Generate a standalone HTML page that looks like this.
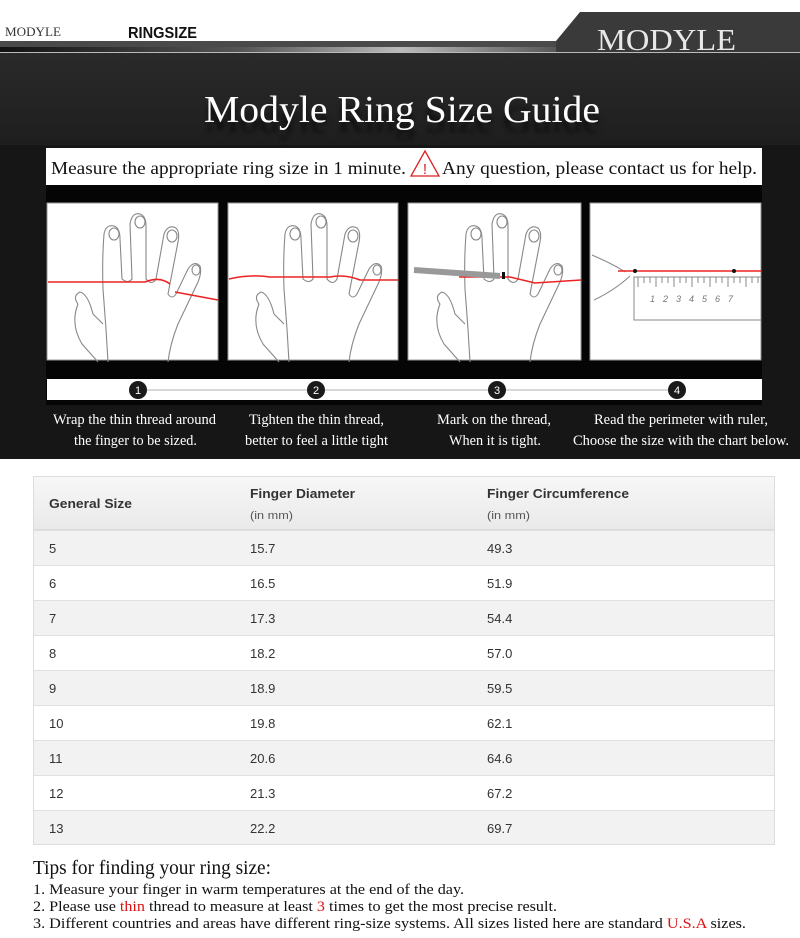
<!DOCTYPE html>
<html><head><meta charset="utf-8"><style>
html,body{margin:0;padding:0;background:#fff;width:800px;height:938px;overflow:hidden}
svg{display:block}
.serif{font-family:"Liberation Serif",serif}
.sans{font-family:"Liberation Sans",sans-serif}
</style></head><body>
<svg width="800" height="938" viewBox="0 0 800 938" xmlns="http://www.w3.org/2000/svg">
<defs>
<filter id="bl"><feGaussianBlur stdDeviation="2.5"/></filter>
<linearGradient id="hl" x1="0" x2="1" y1="0" y2="0">
<stop offset="0" stop-color="#111"/><stop offset="0.3" stop-color="#555"/><stop offset="0.5" stop-color="#bbb"/><stop offset="0.7" stop-color="#555"/><stop offset="1" stop-color="#111"/></linearGradient>
<linearGradient id="th" x1="0" x2="0" y1="0" y2="1"><stop offset="0" stop-color="#f7f7f7"/><stop offset="1" stop-color="#e9e9e9"/></linearGradient>
<linearGradient id="dk" x1="0" x2="0" y1="0" y2="1"><stop offset="0" stop-color="#2a2a2a"/><stop offset="1" stop-color="#1e1e1e"/></linearGradient>
<g id="hand" fill="none" stroke="#888" stroke-width="1.1">
<path d="M20 100 Q12 120 24 140 L40 158 M50 158 L48 125 L45 85 Q44 55 46 30 Q48 20 56 22 Q62 24 62 35 L64 75 Q70 80 74 75 L72 20 Q74 8 82 10 Q88 12 88 22 L88 75 Q94 82 98 75 L106 30 Q110 20 118 24 Q122 28 120 38 L110 90 Q114 96 118 90 L130 65 Q136 56 142 62 Q144 68 140 78 L120 120 Q112 140 110 158"/>
<path d="M20 100 Q14 92 22 88 Q30 90 35 110 L45 120"/>
<ellipse cx="56" cy="30" rx="5" ry="6"/><ellipse cx="82" cy="18" rx="5" ry="6"/><ellipse cx="114" cy="32" rx="5" ry="6"/><ellipse cx="138" cy="66" rx="4" ry="5"/>
</g>
</defs>
<rect x="0" y="0" width="800" height="41" fill="#fff"/>
<text x="5" y="36" class="serif" font-size="13" fill="#333" textLength="56" lengthAdjust="spacingAndGlyphs">MODYLE</text>
<text x="128" y="38" class="sans" font-size="16" font-weight="bold" fill="#111" textLength="69" lengthAdjust="spacingAndGlyphs">RINGSIZE</text>
<rect x="0" y="41" width="800" height="8" fill="#4a4a4a"/>
<rect x="0" y="47" width="800" height="5" fill="url(#hl)"/>
<polygon points="580,12 800,12 800,52 556,52 556,41" fill="#3a3a3a"/>
<text x="597" y="50" class="serif" font-size="31" fill="#e8e8e8" textLength="139" lengthAdjust="spacingAndGlyphs">MODYLE</text>
<rect x="0" y="52" width="800" height="1.5" fill="#bbb"/>
<rect x="0" y="53" width="800" height="92" fill="url(#dk)"/>
<rect x="0" y="145" width="800" height="314" fill="#161616"/>
<text x="204" y="132" class="serif" font-size="38" fill="#000" opacity="0.6" filter="url(#bl)" textLength="396" lengthAdjust="spacingAndGlyphs">Modyle Ring Size Guide</text>
<text x="204" y="122" class="serif" font-size="38" fill="#fff" textLength="396" lengthAdjust="spacingAndGlyphs">Modyle Ring Size Guide</text>
<rect x="46" y="148" width="716" height="37" fill="#fff"/>
<rect x="46" y="185" width="716" height="220" fill="#050505"/>
<text x="51" y="174" class="serif" font-size="18" fill="#111" textLength="355" lengthAdjust="spacingAndGlyphs">Measure the appropriate ring size in 1 minute.</text>
<polygon points="425,151 411,176 439,176" fill="#fff" stroke="#d22" stroke-width="1.3"/>
<text x="425" y="174" class="sans" font-size="15" fill="#d22" text-anchor="middle">!</text>
<text x="442" y="174" class="serif" font-size="18" fill="#111" textLength="315" lengthAdjust="spacingAndGlyphs">Any question, please contact us for help.</text>
<rect x="47" y="203" width="171" height="157" fill="#fff" stroke="#999"/>
<rect x="228" y="203" width="170" height="157" fill="#fff" stroke="#999"/>
<rect x="408" y="203" width="173" height="157" fill="#fff" stroke="#999"/>
<rect x="590" y="203" width="171" height="157" fill="#fff" stroke="#999"/>
<use href="#hand" x="58" y="204"/>
<use href="#hand" x="239" y="204"/>
<use href="#hand" x="420" y="204"/>
<path d="M48 282 L145 282 Q160 276 170 284 M175 292 L218 300" stroke="#e22" stroke-width="1.6" fill="none"/>
<path d="M229 279 Q250 274 270 277 L330 277 Q345 274 360 280 L398 280" stroke="#e22" stroke-width="1.6" fill="none"/>
<path d="M459 277 L510 277 L535 283 L581 280" stroke="#e22" stroke-width="1.6" fill="none"/>
<path d="M414 270 L500 276" stroke="#999" stroke-width="6" fill="none"/>
<rect x="502" y="272" width="3" height="7" fill="#111"/>
<path d="M592 255 Q615 265 625 272 M594 300 Q615 290 630 276" stroke="#888" fill="none"/>
<path d="M618 271 L761 271" stroke="#e22" stroke-width="1.6"/>
<circle cx="635" cy="271" r="2" fill="#111"/><circle cx="734" cy="271" r="2" fill="#111"/>
<path d="M761 277 L634 277 L634 320 L761 320" stroke="#888" fill="none"/>
<g stroke="#888"><path d="M638 277v10M644 277v6M650 277v6M656 277v10M662 277v6M668 277v6M674 277v10M680 277v6M686 277v6M692 277v10M698 277v6M704 277v6M710 277v10M716 277v6M722 277v6M728 277v10M734 277v6M740 277v6M746 277v10M752 277v6M758 277v6"/></g>
<text x="650" y="302" class="sans" font-size="9" font-style="italic" fill="#777" letter-spacing="8">1234567</text>
<rect x="47" y="379" width="715" height="21" fill="#fff"/>
<line x1="138" y1="390" x2="677" y2="390" stroke="#ccc" stroke-width="1.5"/>
<g class="sans" font-size="11" fill="#fff" text-anchor="middle">
<circle cx="138" cy="390" r="9" fill="#1a1a1a"/><text x="138" y="394">1</text>
<circle cx="316" cy="390" r="9" fill="#1a1a1a"/><text x="316" y="394">2</text>
<circle cx="497" cy="390" r="9" fill="#1a1a1a"/><text x="497" y="394">3</text>
<circle cx="677" cy="390" r="9" fill="#1a1a1a"/><text x="677" y="394">4</text>
</g>
<g class="serif" font-size="15" fill="#fff">
<text x="53" y="424" textLength="163" lengthAdjust="spacingAndGlyphs">Wrap the thin thread around</text>
<text x="74" y="445" textLength="123" lengthAdjust="spacingAndGlyphs">the finger to be sized.</text>
<text x="249" y="424" textLength="135" lengthAdjust="spacingAndGlyphs">Tighten the thin thread,</text>
<text x="245" y="445" textLength="143" lengthAdjust="spacingAndGlyphs">better to feel a little tight</text>
<text x="437" y="424" textLength="114" lengthAdjust="spacingAndGlyphs">Mark on the thread,</text>
<text x="449" y="445" textLength="92" lengthAdjust="spacingAndGlyphs">When it is tight.</text>
<text x="594" y="424" textLength="174" lengthAdjust="spacingAndGlyphs">Read the perimeter with ruler,</text>
<text x="573" y="445" textLength="216" lengthAdjust="spacingAndGlyphs">Choose the size with the chart below.</text>
</g>
<rect x="33.5" y="476.5" width="741" height="368" fill="#fff" stroke="#ddd"/>
<rect x="34" y="477" width="740" height="53" fill="url(#th)"/>
<line x1="34" y1="530" x2="774" y2="530" stroke="#d6d6d6" stroke-width="1.5"/>
<g class="sans" fill="#333">
<text x="49" y="508" font-size="13" font-weight="bold" textLength="83" lengthAdjust="spacingAndGlyphs">General Size</text>
<text x="250" y="498" font-size="13" font-weight="bold" textLength="105" lengthAdjust="spacingAndGlyphs">Finger Diameter</text>
<text x="250" y="519" font-size="11" fill="#555" textLength="43" lengthAdjust="spacingAndGlyphs">(in mm)</text>
<text x="487" y="498" font-size="13" font-weight="bold" textLength="142" lengthAdjust="spacingAndGlyphs">Finger Circumference</text>
<text x="487" y="519" font-size="11" fill="#555" textLength="43" lengthAdjust="spacingAndGlyphs">(in mm)</text>
</g>
<g fill="#f2f2f2">
<rect x="34" y="531" width="740" height="34"/><rect x="34" y="601" width="740" height="34"/><rect x="34" y="671" width="740" height="34"/><rect x="34" y="741" width="740" height="34"/><rect x="34" y="811" width="740" height="33"/>
</g>
<g stroke="#e0e0e0"><path d="M34 565.5H774M34 600.5H774M34 635.5H774M34 670.5H774M34 705.5H774M34 740.5H774M34 775.5H774M34 810.5H774"/></g>
<g class="sans" font-size="13" fill="#333">
<text x="49" y="553">5</text><text x="250" y="553">15.7</text><text x="487" y="553">49.3</text>
<text x="49" y="588">6</text><text x="250" y="588">16.5</text><text x="487" y="588">51.9</text>
<text x="49" y="623">7</text><text x="250" y="623">17.3</text><text x="487" y="623">54.4</text>
<text x="49" y="658">8</text><text x="250" y="658">18.2</text><text x="487" y="658">57.0</text>
<text x="49" y="693">9</text><text x="250" y="693">18.9</text><text x="487" y="693">59.5</text>
<text x="49" y="728">10</text><text x="250" y="728">19.8</text><text x="487" y="728">62.1</text>
<text x="49" y="763">11</text><text x="250" y="763">20.6</text><text x="487" y="763">64.6</text>
<text x="49" y="798">12</text><text x="250" y="798">21.3</text><text x="487" y="798">67.2</text>
<text x="49" y="833">13</text><text x="250" y="833">22.2</text><text x="487" y="833">69.7</text>
</g>
<g class="serif" fill="#111">
<text x="33" y="874" font-size="20" textLength="238" lengthAdjust="spacingAndGlyphs">Tips for finding your ring size:</text>
<text x="33" y="894" font-size="15" textLength="431" lengthAdjust="spacingAndGlyphs">1. Measure your finger in warm temperatures at the end of the day.</text>
<text x="33" y="911" font-size="15" textLength="524" lengthAdjust="spacingAndGlyphs">2. Please use <tspan fill="#d11">thin</tspan> thread to measure at least <tspan fill="#d11">3</tspan> times to get the most precise result.</text>
<text x="33" y="928" font-size="15" textLength="713" lengthAdjust="spacingAndGlyphs">3. Different countries and areas have different ring-size systems. All sizes listed here are standard <tspan fill="#d11">U.S.A</tspan> sizes.</text>
</g>
</svg>
</body></html>
